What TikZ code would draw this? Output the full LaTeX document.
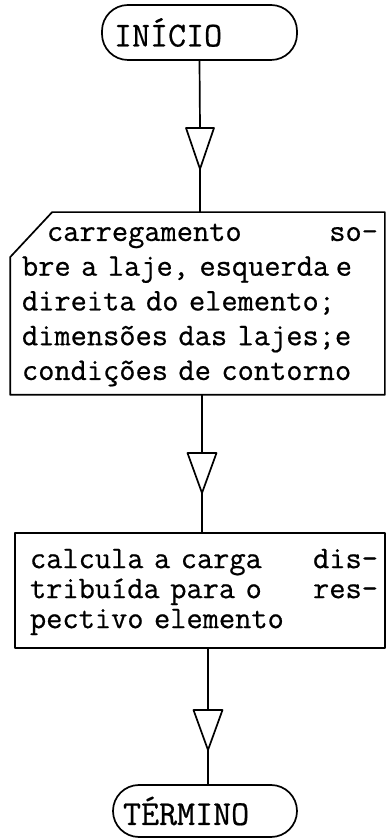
\documentclass[tikz,border=0pt]{standalone}
\usepackage{fontspec}
\newfontfamily\typer{Latin Modern Mono}[FakeBold=0.6, WordSpace={1,0,0}]
\usetikzlibrary{calc}
\begin{document}
\begin{tikzpicture}[x=1pt,y=1pt,
  line width=1.7pt, line join=round,
  terminal/.style={draw, rounded corners=26pt, align=left, inner ysep=0pt,
    font=\typer\fontsize{35}{40}\selectfont},
  bodytext/.style={align=left, inner sep=0pt},
  mergetri/.style={draw, line join=round}]
\useasboundingbox (0,0) rectangle (387,839);

% start terminal
\node[terminal, minimum height=55pt, text width=171pt, inner xsep=12pt] (start) at (199.5,806.5) {INÍCIO};

% merge triangle 1
\coordinate (m1t) at (200,711);
\coordinate (m1b) at (200,670);
\draw[mergetri] ($(m1t)+(-14,0)$) -- ($(m1t)+(14,0)$) -- (m1b) -- cycle;
\draw (start.south) -- (m1t);

% manual input box
\node[minimum width=373pt, minimum height=181pt, inner sep=0pt] (inp) at (197.5,535.5) {};
\draw ($(inp.north west)+(42,0)$) -- (inp.north east) -- (inp.south east)
  -- (inp.south west) -- ($(inp.north west)+(0,-45)$) -- cycle;
\node[bodytext, text width=356pt, font=\typer\fontsize{31.5}{34.75}\selectfont] (inptext) at (200,534)
  {\noindent\hspace*{25pt}carregamento\hfill so-\\
   bre a laje, esquerda\kern-4pt{} e\\
   direita do elemento;\\
   dimensões das lajes;e\\
   condições de contorno};
\draw (m1b) -- (m1b |- inp.north);

% merge triangle 2
\coordinate (m2t) at (202,386);
\coordinate (m2b) at (202,346);
\draw[mergetri] ($(m2t)+(-14.5,0)$) -- ($(m2t)+(14.5,0)$) -- (m2b) -- cycle;
\draw (m2t |- inp.south) -- (m2t);

% process box
\node[draw, minimum width=370pt, minimum height=115pt, inner sep=0pt] (proc) at (200,248.5) {};
\node[bodytext, text width=348pt, font=\typer\fontsize{31.5}{30}\selectfont] (proctext) at (204,247)
  {\noindent calcula a carga\hfill dis-\\
   tribuída para o\hfill res-\\
   pectivo elemento};
\draw (m2b) -- (m2b |- proc.north);

% merge triangle 3
\coordinate (m3t) at (208,129);
\coordinate (m3b) at (208,89);
\draw[mergetri] ($(m3t)+(-14.5,0)$) -- ($(m3t)+(14.5,0)$) -- (m3b) -- cycle;
\draw (m3t |- proc.south) -- (m3t);

% end terminal
\node[terminal, minimum height=52pt, text width=164pt, inner xsep=10pt] (finish) at (205,28) {TÉRMINO};
\draw (m3b) -- (m3b |- finish.north);
\end{tikzpicture}
\end{document}
